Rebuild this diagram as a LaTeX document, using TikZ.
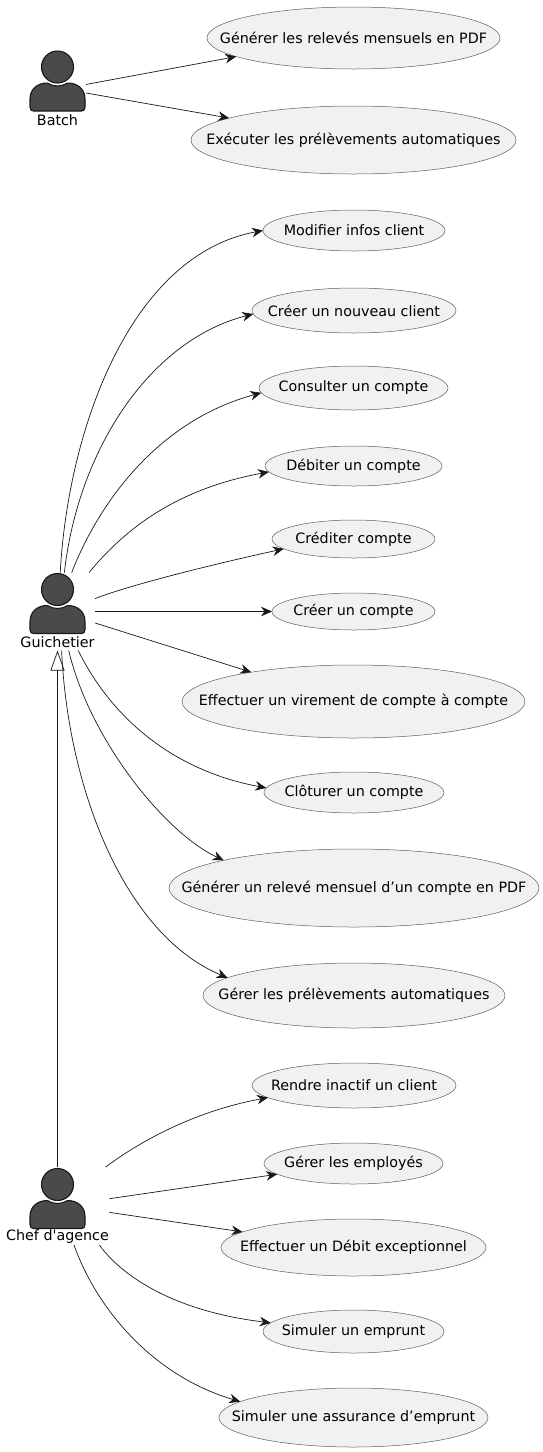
\documentclass[tikz,border=0pt]{standalone}
\usepackage{fontspec}
\setmainfont{DejaVu Sans}[Ligatures=TeXOff]
\usetikzlibrary{arrows.meta}
\usetikzlibrary{shapes.geometric}
\definecolor{ucfill}{HTML}{F1F1F1}
\definecolor{ucline}{HTML}{181818}
\definecolor{actorfill}{HTML}{4A4A4A}
\newcommand{\uctext}[1]{\makebox[0pt]{#1}}
\tikzset{
  usecase/.style={ellipse, draw=ucline!70, fill=ucfill, line width=0.5pt, inner sep=0pt, outer sep=0pt,
    font=\fontsize{14.3}{16}\selectfont, text=black},
  actorbox/.style={rectangle, inner sep=0pt, outer sep=0pt, minimum height=78pt},
  actorlabel/.style={inner sep=0pt, font=\fontsize{14.3}{16}\selectfont, text=black},
  link/.style={-{Stealth[length=11pt, width=9.5pt, inset=3.5pt]}, line width=0.7pt, draw=ucline},
  extends/.style={-{Triangle[open, length=20pt, width=14pt]}, line width=0.7pt, draw=ucline},
  pics/actorfig/.style={code={
    \draw[draw=ucline, fill=actorfill, line width=1.1pt] (-27.5,40) -- (-27.5,32)
      .. controls (-27.5,22) and (-20,16) .. (-10,16) -- (10,16)
      .. controls (20,16) and (27.5,22) .. (27.5,32) -- (27.5,40)
      .. controls (27.5,43) and (26,44) .. (24,44) -- (-24,44)
      .. controls (-26,44) and (-27.5,43) .. (-27.5,40) -- cycle;
    \fill[white] (0,0) circle (19);
    \draw[draw=ucline, line width=1.1pt] (57:19) arc[start angle=57, end angle=123, radius=19];
    \draw[draw=ucline, fill=actorfill, line width=1.1pt] (0,0) circle (16);
  }},
}
\begin{document}
\begin{tikzpicture}[x=1pt, y=-1pt]
    \useasboundingbox (0,0) rectangle (543,1452);
    % Batch
    \pic at (57.5,67) {actorfig};
    \node[actorlabel] (batchlabel) at (57.5,120) {Batch};
    \node[actorbox, minimum width=57pt] (batch) at (57.5,90) {};
    \node[usecase, minimum width=293pt, minimum height=62pt] (releves) at (353.5,38) {\uctext{Générer les relevés mensuels en PDF}};
    \node[usecase, minimum width=325pt, minimum height=68pt] (execprelev) at (353.5,140) {\uctext{Exécuter les prélèvements automatiques}};
    \draw[link] (batch.11.9) -- (releves.189.3);
    \draw[link] (batch.-6) -- (execprelev.170.1);

    % Guichetier
    \pic at (57.5,589.5) {actorfig};
    \node[actorlabel] (guichetierlabel) at (57.5,642) {Guichetier};
    \node[actorbox, minimum width=75pt] (guichetier) at (57.5,611.5) {};
    \node[usecase, minimum width=182pt, minimum height=41pt] (modifier) at (354,230.5) {\uctext{Modifier infos client}};
    \node[usecase, minimum width=204pt, minimum height=45pt] (nouveau) at (354,310.5) {\uctext{Créer un nouveau client}};
    \node[usecase, minimum width=189pt, minimum height=44pt] (consulter) at (353.5,388) {\uctext{Consulter un compte}};
    \node[usecase, minimum width=177pt, minimum height=40pt] (debiter) at (353.5,466) {\uctext{Débiter un compte}};
    \node[usecase, minimum width=163pt, minimum height=38pt] (crediter) at (353.5,539) {\uctext{Créditer compte}};
    \node[usecase, minimum width=163pt, minimum height=37pt] (creercompte) at (353.5,611.5) {\uctext{Créer un compte}};
    \node[usecase, minimum width=343pt, minimum height=73pt] (virement) at (353.5,701.5) {\uctext{Effectuer un virement de compte à compte}};
    \node[usecase, minimum width=180pt, minimum height=41pt] (cloturer) at (354,792.5) {\uctext{Clôturer un compte}};
    \node[usecase, minimum width=370pt, minimum height=78pt] (releve) at (354,888) {\uctext{Générer un relevé mensuel d’un compte en PDF}};
    \node[usecase, minimum width=302pt, minimum height=65pt] (prelev) at (354,995.5) {\uctext{Gérer les prélèvements automatiques}};
    \draw[link] (guichetier.86.3) .. controls (68,430) and (130,255) .. (modifier.180.9);
    \draw[link] (guichetier.80.5) .. controls (78,450) and (150,340) .. (nouveau.182.6);
    \draw[link] (guichetier.70.3) .. controls (100,500) and (160,420) .. (consulter.183.1);
    \draw[link] (guichetier.51.1) .. controls (120,535) and (170,490) .. (debiter.184.2);
    \draw[link] (guichetier.19.1) .. controls (130,585) and (210,565) .. (crediter.188.7);
    \draw[link] (guichetier.0) -- (creercompte.180);
    \draw[link] (guichetier.-17.7) -- (virement.164.3);
    \draw[link] (guichetier.-62.3) .. controls (110,715) and (170,770) .. (cloturer.177.1);
    \draw[link] (guichetier.-74.9) .. controls (90,740) and (165,833) .. (releve.168.8);
    \draw[link] (guichetier.-84.9) .. controls (68,790) and (125,935) .. (prelev.172.3);

    % Chef d'agence
    \pic at (57.5,1184.5) {actorfig};
    \node[actorlabel] (cheflabel) at (57.5,1237) {Chef d'agence};
    \node[actorbox, minimum width=104pt] (chef) at (57.5,1206) {};
    \node[usecase, minimum width=204pt, minimum height=45pt] (inactif) at (354,1085.5) {\uctext{Rendre inactif un client}};
    \node[usecase, minimum width=179pt, minimum height=41pt] (employes) at (353.5,1163.5) {\uctext{Gérer les employés}};
    \node[usecase, minimum width=265pt, minimum height=57pt] (debit) at (353.5,1247.5) {\uctext{Effectuer un Débit exceptionnel}};
    \node[usecase, minimum width=181pt, minimum height=43pt] (emprunt) at (353.5,1331.5) {\uctext{Simuler un emprunt}};
    \node[usecase, minimum width=269pt, minimum height=59pt] (assurance) at (353.5,1417.5) {\uctext{Simuler une assurance d’emprunt}};
    \draw[extends] (chef.north) -- (guichetier.south);
    \draw[link] (chef.39.4) .. controls (135,1145) and (190,1112) .. (inactif.188.2);
    \draw[link] (chef.8.8) -- (employes.188.7);
    \draw[link] (chef.-7.7) -- (debit.172.1);
    \draw[link] (chef.-43.9) .. controls (125,1280) and (180,1312) .. (emprunt.174);
    \draw[link] (chef.-67.1) .. controls (95,1305) and (150,1375) .. (assurance.172.8);
  \end{tikzpicture}
\end{document}
